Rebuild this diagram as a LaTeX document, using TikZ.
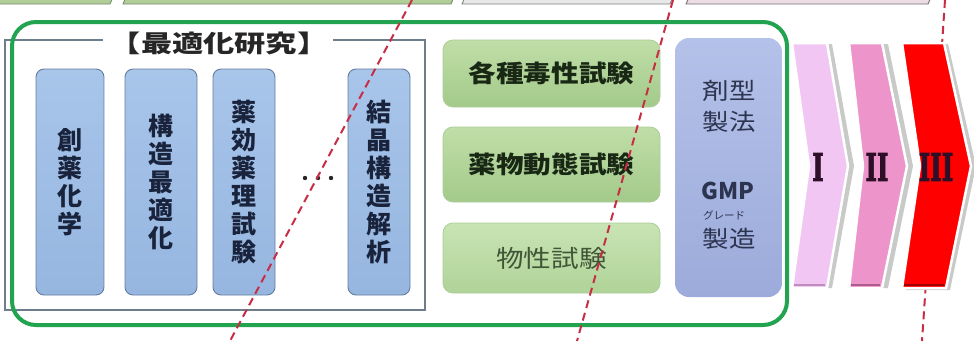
\documentclass[tikz,border=0pt]{standalone}
\usepackage{fontspec}
\newfontfamily\jp{Noto Sans CJK JP}
\newfontfamily\jpw{Noto Sans CJK JP}[FakeStretch=1.15]
\newfontfamily\jpt{Noto Sans CJK JP}[FakeStretch=1.3]
\newfontfamily\numfont{DejaVu Serif}[BoldFeatures={FakeBold=2.5}]
\definecolor{tgreen}{RGB}{178,206,152}
\definecolor{tgreenb}{RGB}{120,140,110}
\definecolor{tgray}{RGB}{232,232,232}
\definecolor{tgrayb}{RGB}{130,130,130}
\definecolor{tpink}{RGB}{236,220,228}
\definecolor{tpinkb}{RGB}{120,110,115}
\definecolor{frameg}{RGB}{34,163,80}
\definecolor{boxgray}{RGB}{110,125,140}
\definecolor{btop}{RGB}{168,197,234}
\definecolor{bbot}{RGB}{150,182,224}
\definecolor{bbord}{RGB}{100,125,160}
\definecolor{btext}{RGB}{25,35,60}
\definecolor{gtop}{RGB}{192,222,168}
\definecolor{gbot}{RGB}{163,202,138}
\definecolor{gtop3}{RGB}{200,228,180}
\definecolor{gbot3}{RGB}{176,211,152}
\definecolor{gbord}{RGB}{172,205,152}
\definecolor{gtext}{RGB}{25,40,20}
\definecolor{gtext3}{RGB}{65,85,55}
\definecolor{mtop}{RGB}{180,193,233}
\definecolor{mbot}{RGB}{156,171,218}
\definecolor{mtext}{RGB}{45,52,80}
\definecolor{chI}{RGB}{242,198,242}
\definecolor{chIb}{RGB}{190,140,190}
\definecolor{chII}{RGB}{237,148,202}
\definecolor{chIIb}{RGB}{175,90,140}
\definecolor{chIII}{RGB}{255,0,0}
\definecolor{chIIIb}{RGB}{165,0,0}
\definecolor{shad}{RGB}{200,202,200}
\definecolor{numc}{RGB}{45,15,40}
\definecolor{redline}{RGB}{200,45,70}
\tikzset{
  topbox/.style={line width=0.9pt},
  bluebox/.style={draw=bbord, top color=btop, bottom color=bbot, rounded corners=8pt, line width=0.9pt,
    minimum height=226pt, inner sep=0pt, align=center, text=btext,
    font=\jp\bfseries\fontsize{25}{28}\selectfont},
  greenbox/.style={draw=gbord, top color=gtop, bottom color=gbot, rounded corners=10pt,
    line width=0.8pt, minimum width=217pt, inner sep=0pt, text=gtext,
    font=\jpw\bfseries\fontsize{24}{28}\selectfont},
  chev/.style={draw=white, line width=2.5pt, line join=miter},
  numeral/.style={text=numc, inner sep=0pt},
  reddash/.style={draw=redline, line width=2pt, dash pattern=on 8pt off 5pt},
}
\newcommand{\rnum}[1]{\scalebox{0.65}[1]{\numfont\fontsize{38}{38}\selectfont\bfseries #1}}
\begin{document}
\begin{tikzpicture}[x=1pt,y=-1pt]
\useasboundingbox (0,0) rectangle (974,341);
\fill[white] (0,0) rectangle (974,341);

% top strip of partially visible boxes
\draw[topbox, draw=tgreenb, fill=tgreen] (-20,4) -- (110,4) -- (117,-12) -- (-13,-12) -- cycle;
\draw[topbox, draw=tgreenb, fill=tgreen] (123,4) -- (451,4) -- (458,-12) -- (130,-12) -- cycle;
\draw[topbox, draw=tgrayb, fill=tgray] (462,4) -- (670,4) -- (677,-12) -- (469,-12) -- cycle;
\draw[topbox, draw=tpinkb, fill=tpink] (686,4) -- (928,4) -- (935,-12) -- (693,-12) -- cycle;

% optimisation study frame
\node[font=\jpt\bfseries\fontsize{24}{28}\selectfont, text=black!85, inner sep=0pt] (title) at (219,43) {【最適化研究】};
\draw[boxgray, line width=1.1pt] (103,40) -- (5,40) -- (5,310) -- (425,310) -- (425,40) -- (333,40);

% green frame
\draw[frameg, line width=4pt, rounded corners=24pt] (12,22) rectangle (787,325);

% blue boxes
\node[bluebox, minimum width=68pt] (b1) at (70,182) {創\\薬\\化\\学};
\node[bluebox, minimum width=72pt] (b2) at (161,182) {構\\造\\最\\適\\化};
\node[bluebox, minimum width=62pt] (b3) at (244,182) {薬\\効\\薬\\理\\試\\験};
\node[bluebox, minimum width=62pt] (b4) at (379,182) {結\\晶\\構\\造\\解\\析};
\fill[black!85] (305,178) circle (2.2) (318,178) circle (2.2) (331,178) circle (2.2);

% green boxes
\node[greenbox, minimum height=67pt] (g1) at (551.5,73.5) {各種毒性試験};
\node[greenbox, minimum height=75pt] (g2) at (551.5,164.5) {薬物動態試験};
\node[greenbox, minimum height=70pt, top color=gtop3, bottom color=gbot3, text=gtext3,
  font=\jpw\fontsize{24}{28}\selectfont] (g3) at (551.5,258) {物性試験};

% GMP box
\node[top color=mtop, bottom color=mbot, rounded corners=14pt, minimum width=107pt,
  minimum height=259pt, inner sep=0pt] (m) at (728.5,167.5) {};
\node[font=\jpw\fontsize{23}{31}\selectfont, text=mtext, align=center, inner sep=0pt] (m1) at (729,106) {剤型\\製法};
\node[font=\jp\bfseries\fontsize{23}{24}\selectfont, text=mtext, inner sep=0pt] (m2) at (728,191) {GMP};
\node[font=\jp\fontsize{10.5}{12}\selectfont, text=mtext, inner sep=0pt] (m3) at (724,215) {グレード};
\node[font=\jpw\fontsize{23}{26}\selectfont, text=mtext, inner sep=0pt] (m4) at (729,239) {製造};

% third dashed line (behind chevron III)
\coordinate (r3a) at (945,0);
\coordinate (r3b) at (922,341);
\draw[reddash] (r3a) -- (r3b);

% chevrons
\fill[shad] (797,44) -- (832,44) -- (854,166) -- (832,288) -- (797,288) -- (815,166) -- cycle;
\draw[chev, fill=chI] (792,43) -- (827,43) -- (848,166) -- (827,288) -- (792,288) -- (809,166) -- cycle;
\draw[chIb, line width=2pt] (794,285) -- (825,285);
\fill[shad] (854,44) -- (888,44) -- (913,166) -- (888,288) -- (854,288) -- (869,166) -- cycle;
\draw[chev, fill=chII] (849,43) -- (882,43) -- (907,166) -- (882,288) -- (849,288) -- (863,166) -- cycle;
\draw[chIIb, line width=2pt] (851,285) -- (880,285);
\fill[shad] (906,44) -- (948,44) -- (976,166) -- (950,290) -- (906,290) -- (924,166) -- cycle;
\draw[chev, fill=chIII] (902,43) -- (944,43) -- (971,166) -- (946,288) -- (902,288) -- (920,166) -- cycle;
\draw[chIIIb, line width=2pt] (904,285) -- (944,285);
\node[numeral] (n1) at (818,167) {\rnum{I}};
\node[numeral] (n2) at (877,167) {\rnum{II}};
\node[numeral] (n3) at (936,167) {\rnum{III}};

% dashed lines over everything
\coordinate (r1a) at (412,0);
\coordinate (r1b) at (230,341);
\coordinate (r2a) at (673,0);
\coordinate (r2b) at (577,341);
\draw[reddash] (r1a) -- (r1b);
\draw[reddash] (r2a) -- (r2b);
\end{tikzpicture}
\end{document}
